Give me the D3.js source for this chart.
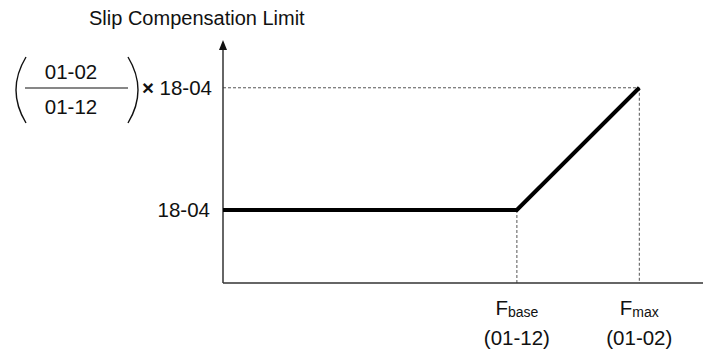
<!DOCTYPE html>
<html>
<head>
<meta charset="utf-8">
<script src="https://cdn.jsdelivr.net/npm/d3@7"></script>
<style>
  body { margin: 0; background: #fff; }
  text { font-family: Arial, "Liberation Sans", sans-serif; fill: #111; }
</style>
</head>
<body>
<div id="chart"></div>
<script>
'use strict';

// frequency points: origin, base frequency (01-12), max frequency (01-02)
const freqs = [0, 60, 85];
// slip compensation limit, relative to 18-04
const limits = [1, 1, 1.417];
const xLabels = [
    { main: 'F', sub: 'base', param: '(01-12)' },
    { main: 'F', sub: 'max', param: '(01-02)' },
];
const yLabels = ['18-04', '18-04'];
const fraction = ['01-02', '01-12'];
const title = 'Slip Compensation Limit';

const settings = {
    width: 703,
    height: 353,
    elId: '#chart',
};

const fontSize = '20.5px';

const svg = d3.select(settings.elId)
    .append('svg')
    .attr('width', settings.width)
    .attr('height', settings.height);

const x = d3.scaleLinear()
    .domain([0, 98])
    .range([223, 703]);

const y = d3.scaleLinear()
    .domain([0.751, 1.58])
    .range([283, 40]);

const axisColor = '#333';

// dashed guide lines
const guides = svg.append('g')
    .attr('stroke', '#555')
    .attr('stroke-width', 1)
    .attr('stroke-dasharray', '3,2');

guides.append('line')
    .attr('x1', x(0)).attr('x2', x(freqs[2]))
    .attr('y1', y(limits[2])).attr('y2', y(limits[2]));

[1, 2].forEach(i => {
    guides.append('line')
        .attr('x1', x(freqs[i])).attr('x2', x(freqs[i]))
        .attr('y1', y(limits[i])).attr('y2', y(0.751));
});

// axes
svg.append('line')
    .attr('x1', x(0)).attr('x2', x(98))
    .attr('y1', y(0.751)).attr('y2', y(0.751))
    .attr('stroke', axisColor)
    .attr('stroke-width', 1.5);

svg.append('line')
    .attr('x1', x(0)).attr('x2', x(0))
    .attr('y1', y(0.751)).attr('y2', 48)
    .attr('stroke', axisColor)
    .attr('stroke-width', 1.5);

svg.append('path')
    .attr('d', `M${x(0)},40 L${x(0) - 4},50 L${x(0) + 4},50 Z`)
    .attr('fill', '#111');

// the limit curve
const line = d3.line()
    .x(d => x(d[0]))
    .y(d => y(d[1]));

svg.append('path')
    .datum(d3.zip(freqs, limits))
    .attr('d', line)
    .attr('fill', 'none')
    .attr('stroke', '#000')
    .attr('stroke-width', 4)
    .attr('stroke-linejoin', 'miter');

// title
svg.append('text')
    .attr('x', 89)
    .attr('y', 25)
    .attr('font-size', '20px')
    .text(title);

// y labels
svg.append('text')
    .attr('x', 210)
    .attr('y', y(limits[0]) + 7)
    .attr('text-anchor', 'end')
    .attr('font-size', fontSize)
    .text(yLabels[0]);

const topLabel = svg.append('text')
    .attr('x', 212)
    .attr('y', y(limits[2]) + 7)
    .attr('text-anchor', 'end')
    .attr('font-size', fontSize);
topLabel.append('tspan')
    .attr('font-weight', 'bold')
    .text('×');
topLabel.append('tspan')
    .text(' ' + yLabels[1]);

// fraction
const fracX = 71;
svg.append('text')
    .attr('x', fracX)
    .attr('y', 79)
    .attr('text-anchor', 'middle')
    .attr('font-size', fontSize)
    .text(fraction[0]);

svg.append('text')
    .attr('x', fracX)
    .attr('y', 114)
    .attr('text-anchor', 'middle')
    .attr('font-size', fontSize)
    .text(fraction[1]);

svg.append('line')
    .attr('x1', 25).attr('x2', 128)
    .attr('y1', 88).attr('y2', 88)
    .attr('stroke', '#111')
    .attr('stroke-width', 1.2);

// parentheses
svg.append('path')
    .attr('d', 'M26,57 Q6,90 26,123')
    .attr('fill', 'none')
    .attr('stroke', '#111')
    .attr('stroke-width', 1.4);

svg.append('path')
    .attr('d', 'M128,57 Q148,90 128,123')
    .attr('fill', 'none')
    .attr('stroke', '#111')
    .attr('stroke-width', 1.4);

// x labels
xLabels.forEach((d, i) => {
    const cx = x(freqs[i + 1]);
    const t = svg.append('text')
        .attr('x', cx)
        .attr('y', 315)
        .attr('text-anchor', 'middle')
        .attr('font-size', fontSize);
    t.append('tspan').text(d.main);
    t.append('tspan')
        .attr('font-size', '14px')
        .attr('dy', 2)
        .text(d.sub);

    svg.append('text')
        .attr('x', cx)
        .attr('y', 345)
        .attr('text-anchor', 'middle')
        .attr('font-size', fontSize)
        .text(d.param);
});
</script>
</body>
</html>
